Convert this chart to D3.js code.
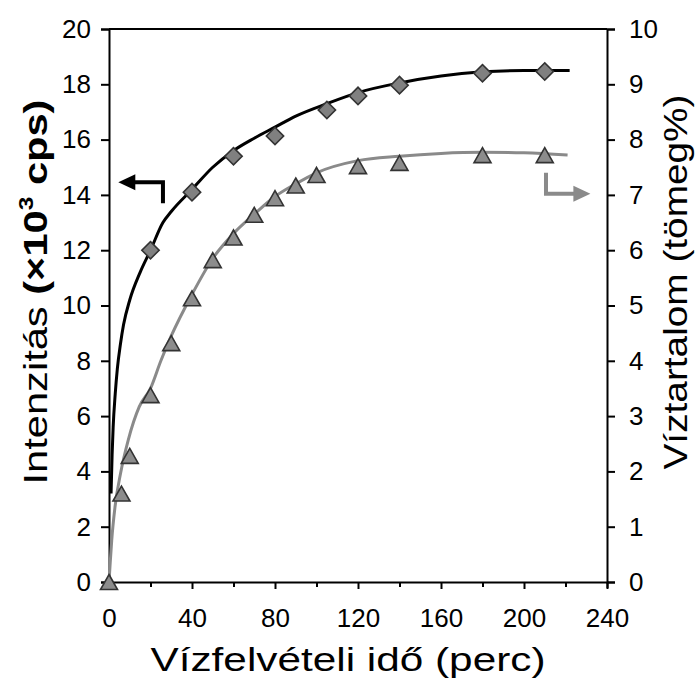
<!DOCTYPE html>
<html>
  <head>
    <meta charset="UTF-8">
    <title>Vízfelvétel</title>
    <style>
      body { margin: 0; background: #fff; }
      text { font-family: "Liberation Sans", Arial, sans-serif; fill: #000; }
    </style>
  </head>
  <body>
    <svg></svg>
    <script src="https://d3js.org/d3.v7.min.js"></script>
    <script>

// measured points (time in minutes)
var diamondTime = [20, 40, 60, 80, 105, 120, 140, 180, 210];
var diamondIntensity = [12.0, 14.1, 15.4, 16.13, 17.07, 17.58, 17.97, 18.4, 18.46];

var triangleTime = [0, 6, 10, 20, 30, 40, 50, 60, 70, 80, 90, 100, 120, 140, 180, 210];
var triangleWater = [0, 1.6, 2.28, 3.38, 4.32, 5.13, 5.82, 6.23, 6.64, 6.94, 7.17, 7.36, 7.52, 7.58, 7.72, 7.72];

// fitted curves
var blackCurveTime = [1, 1.5, 2, 3, 4, 5.5, 7, 10, 15, 20, 26, 30, 40, 50, 60, 70, 80, 90, 105, 120, 140, 160, 180, 200, 222];
var blackCurveIntensity = [3.2, 4.6, 5.6, 6.8, 7.7, 8.6, 9.3, 10.2, 11.2, 12.0, 13.0, 13.4, 14.2, 15.0, 15.6, 16.05, 16.45, 16.85, 17.3, 17.7, 18.05, 18.3, 18.45, 18.5, 18.5];

var grayCurveTime = [0, 0.5, 1.3, 2.9, 5.6, 9.3, 14.6, 20, 25, 30, 40, 50, 60, 70, 80, 90, 100, 120, 140, 160, 180, 200, 221];
var grayCurveWater = [0, 0.3, 0.75, 1.36, 1.97, 2.57, 3.17, 3.5, 4.0, 4.45, 5.2, 5.85, 6.3, 6.65, 6.97, 7.2, 7.4, 7.62, 7.7, 7.75, 7.77, 7.76, 7.72];

// arrow annotations (data units)
var leftArrowTime = [4.5, 26];
var leftArrowIntensity = [14.46, 13.7];
var rightArrowTime = [210.6, 232];
var rightArrowWater = [7.4, 7.02];

var xTicks = d3.range(0, 241, 20);
var leftTicks = d3.range(0, 21, 2);
var rightTicks = d3.range(0, 11, 1);

var config = {
  width: 696,
  height: 680,
  margin: { top: 29, right: 89, bottom: 98, left: 109 }
};

var svg = d3.select("svg")
  .attr("width", config.width)
  .attr("height", config.height);

var margin = config.margin,
    width = config.width - margin.left - margin.right,
    height = config.height - margin.top - margin.bottom;

var g = svg.append("g")
  .attr("transform", "translate(" + margin.left + "," + margin.top + ")");

var x = d3.scaleLinear().domain([0, 240]).range([0, width]);
var yL = d3.scaleLinear().domain([0, 20]).range([height, 0]);
var yR = d3.scaleLinear().domain([0, 10]).range([height, 0]);

// top border
g.append("line")
  .attr("x1", 0).attr("x2", width)
  .attr("y1", 0).attr("y2", 0)
  .attr("stroke", "#000").attr("stroke-width", 2);

// x axis: minor ticks every 20, labels every 40
var xAxis = g.append("g")
  .attr("class", "axis")
  .attr("transform", "translate(0," + height + ")")
  .call(d3.axisBottom(x)
    .tickValues(xTicks)
    .tickSize(6)
    .tickPadding(21)
    .tickFormat(function(d) { return d % 40 == 0 ? d : ""; }));
xAxis.selectAll(".tick line")
  .attr("y2", function(d) { return d % 40 == 0 ? 7 : 5; });

var leftAxis = g.append("g")
  .attr("class", "axis")
  .call(d3.axisLeft(yL).tickValues(leftTicks).tickSize(8).tickPadding(10));

var rightAxis = g.append("g")
  .attr("class", "axis")
  .attr("transform", "translate(" + width + ",0)")
  .call(d3.axisRight(yR).tickValues(rightTicks).tickSize(8).tickPadding(14));

g.selectAll(".axis path").attr("stroke-width", 2).attr("stroke", "#000");
g.selectAll(".axis .tick line").attr("stroke-width", 2).attr("stroke", "#000");
g.selectAll(".axis text")
  .attr("font-size", 26)
  .attr("font-family", "Liberation Sans, Arial, sans-serif")
  .attr("fill", "#000");

// curves
var blackLine = d3.line()
  .x(function(d) { return x(d[0]); })
  .y(function(d) { return yL(d[1]); })
  .curve(d3.curveMonotoneX);

var grayLine = d3.line()
  .x(function(d) { return x(d[0]); })
  .y(function(d) { return yR(d[1]); })
  .curve(d3.curveMonotoneX);

g.append("path")
  .datum(d3.zip(grayCurveTime, grayCurveWater))
  .attr("fill", "none")
  .attr("stroke", "#8a8a8a")
  .attr("stroke-width", 3)
  .attr("d", grayLine);

g.append("path")
  .datum(d3.zip(blackCurveTime, blackCurveIntensity))
  .attr("fill", "none")
  .attr("stroke", "#000")
  .attr("stroke-width", 3)
  .attr("d", blackLine);

// markers
g.selectAll(".diamond")
  .data(d3.zip(diamondTime, diamondIntensity))
  .enter().append("path")
    .attr("class", "diamond")
    .attr("transform", function(d) { return "translate(" + x(d[0]) + "," + yL(d[1]) + ") rotate(45)"; })
    .attr("d", d3.symbol(d3.symbolSquare, 150))
    .attr("fill", "#808080")
    .attr("stroke", "#333")
    .attr("stroke-width", 1.6);

var triW = 17, triH = 15;
g.selectAll(".triangle")
  .data(d3.zip(triangleTime, triangleWater))
  .enter().append("path")
    .attr("class", "triangle")
    .attr("transform", function(d) { return "translate(" + x(d[0]) + "," + yR(d[1]) + ")"; })
    .attr("d", "M0," + (-triH / 2) + "L" + (triW / 2) + "," + (triH / 2) + "L" + (-triW / 2) + "," + (triH / 2) + "Z")
    .attr("fill", "#8c8c8c")
    .attr("stroke", "#333")
    .attr("stroke-width", 1.6);

// arrows
var lx0 = x(leftArrowTime[0]), lx1 = x(leftArrowTime[1]);
var ly0 = yL(leftArrowIntensity[0]), ly1 = yL(leftArrowIntensity[1]);
g.append("path")
  .attr("d", "M" + lx1 + "," + ly1 + "V" + ly0 + "H" + (lx0 + 15))
  .attr("fill", "none").attr("stroke", "#000").attr("stroke-width", 4);
g.append("path")
  .attr("d", "M" + lx0 + "," + ly0 + "l17,-8v16z")
  .attr("fill", "#000");

var rx0 = x(rightArrowTime[0]), rx1 = x(rightArrowTime[1]);
var ry0 = yR(rightArrowWater[0]), ry1 = yR(rightArrowWater[1]);
g.append("path")
  .attr("d", "M" + rx0 + "," + ry0 + "V" + ry1 + "H" + (rx1 - 15))
  .attr("fill", "none").attr("stroke", "#8a8a8a").attr("stroke-width", 4);
g.append("path")
  .attr("d", "M" + rx1 + "," + ry1 + "l-17,-8v16z")
  .attr("fill", "#8a8a8a");

// axis titles
svg.append("text")
  .attr("x", 348)
  .attr("y", 671)
  .attr("text-anchor", "middle")
  .attr("font-size", 34)
  .attr("textLength", 395)
  .attr("lengthAdjust", "spacingAndGlyphs")
  .text("Vízfelvételi idő (perc)");

var leftTitle = svg.append("text")
  .attr("transform", "translate(47,292) rotate(-90)")
  .attr("text-anchor", "middle")
  .attr("font-size", 34)
  .attr("textLength", 385)
  .attr("lengthAdjust", "spacingAndGlyphs");
leftTitle.append("tspan").text("Intenzitás ");
leftTitle.append("tspan").attr("font-weight", "bold").text("(×10");
leftTitle.append("tspan").attr("font-weight", "bold").attr("font-size", 20).attr("dy", -14).text("3");
leftTitle.append("tspan").attr("font-weight", "bold").attr("dy", 14).text(" cps)");

svg.append("text")
  .attr("transform", "translate(687,282) rotate(-90)")
  .attr("text-anchor", "middle")
  .attr("font-size", 34)
  .attr("textLength", 375)
  .attr("lengthAdjust", "spacingAndGlyphs")
  .text("Víztartalom (tömeg%)");

    </script>
  </body>
</html>
